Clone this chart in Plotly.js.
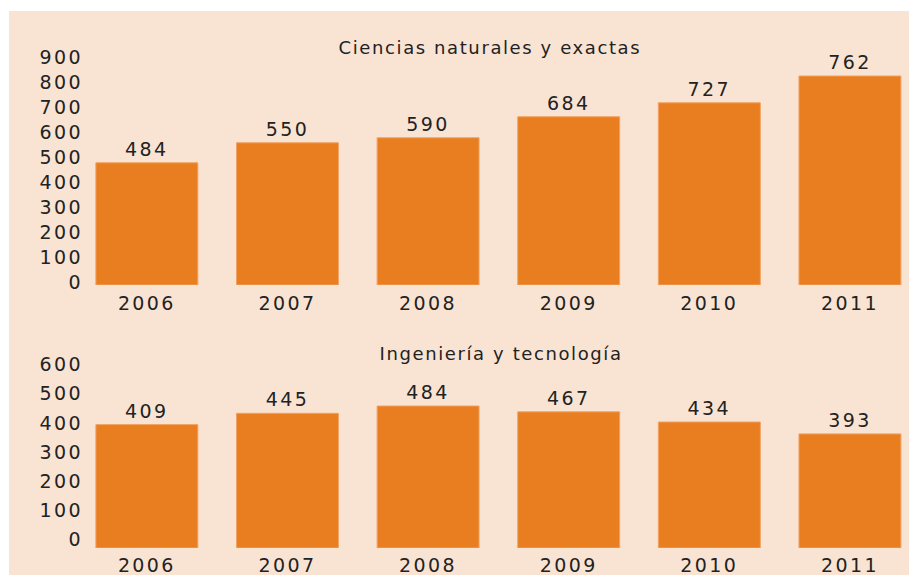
<!DOCTYPE html>
<html>
<head>
<meta charset="utf-8">
<script src="https://cdn.plot.ly/plotly-3.0.1.min.js"></script>
<style>
html, body { margin: 0; padding: 0; background: #ffffff; }
#chart { width: 909px; height: 575px; }
#chart .main-svg text { letter-spacing: 2.4px; }
#chart .main-svg text.annotation-text { letter-spacing: 1.6px; }
</style>
</head>
<body>
<div id="chart"></div>
<script>
// Categories
const years = ['2006', '2007', '2008', '2009', '2010', '2011'];

// "Ciencias naturales y exactas": bar heights as drawn, and the printed labels
const cienciasBars = [489, 569, 589, 673, 729, 836];
const cienciasLabels = ['484', '550', '590', '684', '727', '762'];

// "Ingeniería y tecnología": bar heights as drawn, and the printed labels
const ingenieriaBars = [425, 464, 489, 469, 434, 393];
const ingenieriaLabels = ['409', '445', '484', '467', '434', '393'];

// Titles
const titleTop = 'Ciencias naturales y exactas';
const titleBottom = 'Ingeniería y tecnología';

const W = 909, H = 575;
const FONT = 'DejaVu Sans, Verdana, sans-serif';
const INK = '#222222';
const BAR = '#e87e20';
const BAR_EDGE = '#f1a262';
const BG = '#f9e4d4';

function px(x) { return x / W; }
function py(y) { return (H - y) / H; }

const barCommon = {
  type: 'bar',
  width: 0.725,
  marker: { color: BAR, line: { color: BAR_EDGE, width: 1 } },
  textposition: 'outside',
  cliponaxis: false,
  textfont: { family: FONT, size: 19, color: INK },
  hoverinfo: 'skip',
  showlegend: false
};

const traces = [
  Object.assign({}, barCommon, {
    x: years, y: cienciasBars, text: cienciasLabels,
    xaxis: 'x', yaxis: 'y'
  }),
  Object.assign({}, barCommon, {
    x: years, y: ingenieriaBars, text: ingenieriaLabels,
    xaxis: 'x2', yaxis: 'y2'
  })
];

const xCommon = {
  type: 'category',
  range: [-0.447, 5.42],
  domain: [px(84), 1],
  showgrid: false, zeroline: false, showline: false, ticks: '',
  tickfont: { family: FONT, size: 19, color: INK },
  fixedrange: true
};
const yCommon = {
  showgrid: false, zeroline: false, showline: false, ticks: '',
  tickfont: { family: FONT, size: 19, color: INK },
  fixedrange: true
};

const layout = {
  width: W, height: H,
  margin: { l: 0, r: 0, t: 0, b: 0 },
  paper_bgcolor: '#ffffff',
  plot_bgcolor: 'rgba(0,0,0,0)',
  bargap: 0.275,
  xaxis: Object.assign({}, xCommon, { anchor: 'y', ticklabelstandoff: 5 }),
  yaxis: Object.assign({}, yCommon, {
    anchor: 'x', range: [0, 940], domain: [py(285), py(50)],
    dtick: 100, tick0: 0, ticklabelshift: -3
  }),
  xaxis2: Object.assign({}, xCommon, { anchor: 'y2', ticklabelstandoff: 4 }),
  yaxis2: Object.assign({}, yCommon, {
    anchor: 'x2', range: [0, 620], domain: [py(548), py(368)],
    dtick: 100, tick0: 0, ticklabelshift: -9
  }),
  shapes: [{
    type: 'rect', xref: 'paper', yref: 'paper',
    x0: px(9), x1: 1, y0: 0, y1: py(11),
    fillcolor: BG, line: { width: 0 }, layer: 'below'
  }],
  annotations: [
    { text: titleTop, xref: 'paper', yref: 'paper', x: px(490), y: py(47),
      xanchor: 'center', yanchor: 'middle', showarrow: false,
      font: { family: FONT, size: 18, color: INK } },
    { text: titleBottom, xref: 'paper', yref: 'paper', x: px(501), y: py(353),
      xanchor: 'center', yanchor: 'middle', showarrow: false,
      font: { family: FONT, size: 18, color: INK } }
  ]
};

Plotly.newPlot('chart', traces, layout, { displayModeBar: false, staticPlot: true });
</script>
</body>
</html>
